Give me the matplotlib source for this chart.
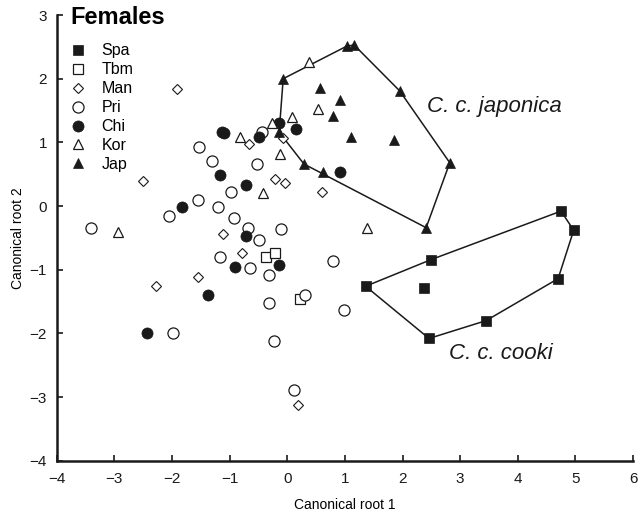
import matplotlib
matplotlib.use('Agg')
import matplotlib.pyplot as plt

plt.rcParams['font.family'] = ['Liberation Sans', 'DejaVu Sans']

# canonical scores (root 1, root 2)
spa_x = [4.75, 4.97, 4.70, 3.45, 2.46, 1.36, 2.50, 2.37]
spa_y = [-0.08, -0.38, -1.14, -1.80, -2.08, -1.26, -0.84, -1.28]

tbm_x = [-0.37, -0.22, 0.23]
tbm_y = [-0.80, -0.74, -1.46]

man_x = [-1.92, -2.50, -0.66, -0.07, -0.22, -0.04, 0.61, -1.11, -0.78, -1.55, -2.28, 0.19]
man_y = [1.84, 0.39, 0.97, 1.07, 0.42, 0.36, 0.22, -0.44, -0.73, -1.12, -1.26, -3.12]

pri_x = [-1.53, -1.30, -0.44, -0.53, -0.98, -1.55, -1.20, -2.05, -3.41, -0.92, -0.68, -0.11,
         -0.49, -1.17, -0.64, 0.80, -0.32, -0.32, 0.30, 0.98, -1.98, -0.23, 0.12]
pri_y = [0.93, 0.70, 1.17, 0.66, 0.22, 0.10, -0.02, -0.16, -0.35, -0.19, -0.34, -0.36,
         -0.53, -0.80, -0.98, -0.86, -1.09, -1.53, -1.40, -1.63, -1.99, -2.12, -2.89]

chi_x = [-1.14, -1.10, -0.49, -0.14, 0.16, 0.91, -1.17, -0.72, -1.82, -0.71, -0.91, -0.14, -1.38, -2.43]
chi_y = [1.17, 1.15, 1.08, 1.30, 1.21, 0.54, 0.48, 0.33, -0.01, -0.47, -0.95, -0.92, -1.40, -1.99]

kor_x = [0.37, 0.53, 0.09, -0.26, -0.13, -0.42, 1.38, -0.82, -2.93]
kor_y = [2.27, 1.52, 1.40, 1.30, 0.82, 0.20, -0.35, 1.09, -0.41]

jap_x = [-0.07, 1.03, 1.16, 1.95, 2.82, 2.41, 0.62, 0.29, -0.14, 0.56, 0.91, 0.79, 1.10, 1.85]
jap_y = [2.00, 2.51, 2.53, 1.81, 0.68, -0.34, 0.54, 0.66, 1.16, 1.85, 1.67, 1.41, 1.08, 1.04]


def convex_hull(xs, ys):
    pts = sorted(set(zip(xs, ys)))

    def cross(o, a, b):
        return (a[0] - o[0]) * (b[1] - o[1]) - (a[1] - o[1]) * (b[0] - o[0])

    lower, upper = [], []
    for p in pts:
        while len(lower) >= 2 and cross(lower[-2], lower[-1], p) <= 0:
            lower.pop()
        lower.append(p)
    for p in reversed(pts):
        while len(upper) >= 2 and cross(upper[-2], upper[-1], p) <= 0:
            upper.pop()
        upper.append(p)
    hull = lower[:-1] + upper[:-1]
    hull.append(hull[0])
    return [p[0] for p in hull], [p[1] for p in hull]


fig = plt.figure(figsize=(6.39, 5.17), dpi=100)
ax = fig.add_axes([0.0887, 0.1089, 0.902, 0.862])

# hulls around the two subspecies
for xs, ys in [(spa_x, spa_y), (jap_x, jap_y)]:
    hx, hy = convex_hull(xs, ys)
    ax.plot(hx, hy, color='#1a1a1a', lw=1.1, zorder=1)

blk = '#1a1a1a'
ax.plot(spa_x, spa_y, 's', ms=7.7, mfc=blk, mec=blk, mew=0.5, ls='none', label='Spa', zorder=3)
ax.plot(tbm_x, tbm_y, 's', ms=7, mfc='white', mec=blk, mew=0.9, ls='none', label='Tbm', zorder=3)
ax.plot(man_x, man_y, 'D', ms=4.6, mfc='white', mec=blk, mew=0.8, ls='none', label='Man', zorder=3)
ax.plot(pri_x, pri_y, 'o', ms=8, mfc='white', mec=blk, mew=0.9, ls='none', label='Pri', zorder=3)
ax.plot(chi_x, chi_y, 'o', ms=8, mfc=blk, mec=blk, mew=0.5, ls='none', label='Chi', zorder=3)
ax.plot(kor_x, kor_y, '^', ms=7.5, mfc='white', mec=blk, mew=0.9, ls='none', label='Kor', zorder=3)
ax.plot(jap_x, jap_y, '^', ms=7.5, mfc=blk, mec=blk, mew=0.5, ls='none', label='Jap', zorder=4)

ax.text(2.42, 1.56, 'C. c. japonica', style='italic', fontsize=16, va='center', ha='left', color='#1a1a1a')
ax.text(2.80, -2.31, 'C. c. cooki', style='italic', fontsize=16, va='center', ha='left', color='#1a1a1a')

ax.set_xlim(-4, 6)
ax.set_ylim(-4, 3)
ax.set_xticks(range(-4, 7))
ax.set_yticks(range(-4, 4))
for s in ['top', 'right']:
    ax.spines[s].set_visible(False)
for s in ['left', 'bottom']:
    ax.spines[s].set_linewidth(1.8)
    ax.spines[s].set_color('#1a1a1a')
ax.tick_params(direction='in', length=4, width=1.2, labelsize=11, colors='#1a1a1a')
ax.tick_params(axis='x', pad=8)
ax.tick_params(axis='y', pad=7)

ax.set_xlabel('Canonical root 1', fontsize=10, labelpad=9)
ax.set_ylabel('Canonical root 2', fontsize=10, labelpad=3)

fig.text(70 / 639, 1 - 18 / 517, 'Females', fontsize=17, fontweight='bold', va='center', ha='left')

ax.legend(loc='upper left', bbox_to_anchor=(0.0196, 0.937), frameon=False, fontsize=11.5,
          handlelength=1.2, handletextpad=0.9, labelspacing=0.25, borderpad=0, borderaxespad=0)

fig.savefig('out.png', dpi=100)
